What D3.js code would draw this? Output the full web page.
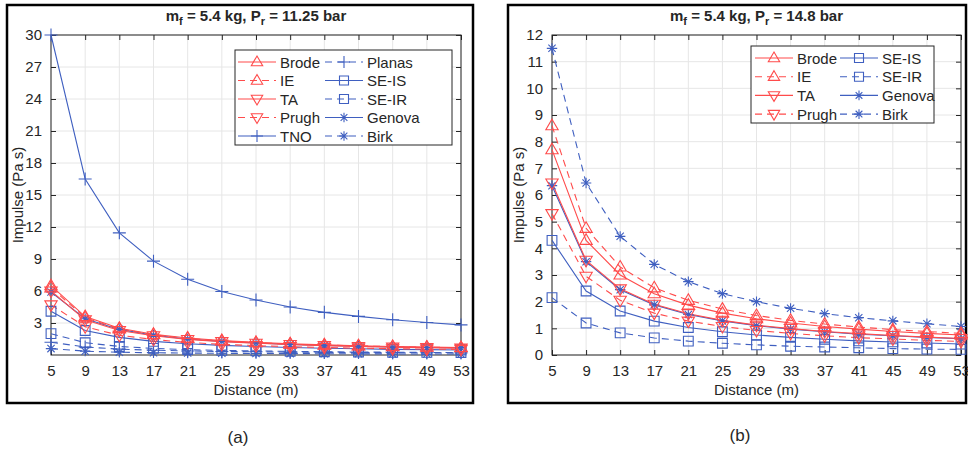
<!DOCTYPE html>
<html>
<head>
<meta charset="utf-8">
<script src="https://cdn.jsdelivr.net/npm/d3@7"></script>
<style>
  body { margin: 0; background: #fff; }
  text { font-family: "Liberation Sans", Arial, sans-serif; fill: #262626; }
</style>
</head>
<body>
<script>
// distances (m)
var distances = [5, 9, 13, 17, 21, 25, 29, 33, 37, 41, 45, 49, 53];

// panel (a): m_f = 5.4 kg, P_r = 11.25 bar
var aBrode  = [6.5, 3.6, 2.5, 1.95, 1.6, 1.35, 1.18, 1.05, 0.95, 0.87, 0.8, 0.75, 0.7];
var aIE     = [6.3, 3.5, 2.45, 1.9, 1.55, 1.32, 1.15, 1.02, 0.93, 0.85, 0.78, 0.73, 0.68];
var aTA     = [6.0, 3.3, 2.3, 1.8, 1.45, 1.25, 1.1, 0.98, 0.88, 0.8, 0.74, 0.69, 0.64];
var aPrugh  = [4.7, 2.65, 1.85, 1.45, 1.18, 1.0, 0.88, 0.78, 0.7, 0.64, 0.59, 0.55, 0.52];
var aTNO    = [30, 16.5, 11.45, 8.8, 7.1, 5.95, 5.15, 4.5, 4.0, 3.62, 3.3, 3.05, 2.82];
var aPlanas = [1.2, 0.75, 0.55, 0.45, 0.38, 0.33, 0.3, 0.27, 0.25, 0.23, 0.22, 0.21, 0.2];
var aSEIS   = [4.1, 2.3, 1.65, 1.28, 1.05, 0.9, 0.79, 0.7, 0.63, 0.58, 0.53, 0.5, 0.47];
var aSEIR   = [2.0, 1.15, 0.8, 0.62, 0.5, 0.43, 0.38, 0.34, 0.3, 0.28, 0.26, 0.24, 0.23];
var aGenova = [5.9, 3.4, 2.4, 1.85, 1.5, 1.28, 1.12, 0.99, 0.9, 0.82, 0.75, 0.7, 0.66];
var aBirk   = [0.6, 0.36, 0.26, 0.21, 0.18, 0.16, 0.14, 0.13, 0.12, 0.11, 0.1, 0.1, 0.09];

// panel (b): m_f = 5.4 kg, P_r = 14.8 bar
var bBrode  = [7.7, 4.3, 3.0, 2.3, 1.87, 1.57, 1.36, 1.2, 1.07, 0.97, 0.88, 0.81, 0.75];
var bIE     = [8.6, 4.75, 3.3, 2.52, 2.05, 1.72, 1.48, 1.3, 1.16, 1.05, 0.95, 0.88, 0.81];
var bTA     = [6.45, 3.55, 2.48, 1.9, 1.55, 1.3, 1.12, 0.99, 0.88, 0.8, 0.73, 0.67, 0.62];
var bPrugh  = [5.3, 2.95, 2.05, 1.57, 1.27, 1.07, 0.92, 0.81, 0.72, 0.65, 0.6, 0.55, 0.51];
var bSEIS   = [4.3, 2.4, 1.65, 1.27, 1.03, 0.87, 0.75, 0.66, 0.59, 0.53, 0.49, 0.45, 0.41];
var bSEIR   = [2.15, 1.2, 0.83, 0.64, 0.52, 0.44, 0.38, 0.33, 0.3, 0.27, 0.24, 0.22, 0.21];
var bGenova = [6.35, 3.5, 2.45, 1.88, 1.52, 1.28, 1.1, 0.97, 0.87, 0.78, 0.72, 0.66, 0.61];
var bBirk   = [11.5, 6.45, 4.45, 3.4, 2.75, 2.3, 2.0, 1.75, 1.55, 1.4, 1.28, 1.17, 1.07];

var aYTicks = [3, 6, 9, 12, 15, 18, 21, 24, 27, 30];
var bYTicks = [0, 1, 2, 3, 4, 5, 6, 7, 8, 9, 10, 11, 12];

var red = "#ff4b4b";
var blue = "#3f5fc0";

// line style per method
var styles = {
  "Brode":  { color: red,  dash: false, marker: "up" },
  "IE":     { color: red,  dash: true,  marker: "up" },
  "TA":     { color: red,  dash: false, marker: "down" },
  "Prugh":  { color: red,  dash: true,  marker: "down" },
  "TNO":    { color: blue, dash: false, marker: "plus" },
  "Planas": { color: blue, dash: true,  marker: "plus" },
  "SE-IS":  { color: blue, dash: false, marker: "square" },
  "SE-IR":  { color: blue, dash: true,  marker: "square" },
  "Genova": { color: blue, dash: false, marker: "star" },
  "Birk":   { color: blue, dash: true,  marker: "star" }
};

var W = 968, H = 453;
var svg = d3.select("body").append("svg").attr("width", W).attr("height", H);

function markerPath(type, s) {
  if (type == "up") {
    return "M0," + (-s) + "L" + (s * 0.95) + "," + (s * 0.62) + "L" + (-s * 0.95) + "," + (s * 0.62) + "Z";
  } else if (type == "down") {
    return "M0," + s + "L" + (s * 0.95) + "," + (-s * 0.62) + "L" + (-s * 0.95) + "," + (-s * 0.62) + "Z";
  } else if (type == "square") {
    var q = s * 0.75;
    return "M" + (-q) + "," + (-q) + "H" + q + "V" + q + "H" + (-q) + "Z";
  } else if (type == "plus") {
    return "M" + (-s) + ",0H" + s + "M0," + (-s) + "V" + s;
  } else {
    var p = s * 0.8, d = p * 0.7;
    return "M" + (-p) + ",0H" + p + "M0," + (-p) + "V" + p +
      "M" + (-d) + "," + (-d) + "L" + d + "," + d + "M" + (-d) + "," + d + "L" + d + "," + (-d);
  }
}

function drawPanel(p) {
  var g = svg.append("g");

  // image frame
  g.append("rect")
    .attr("x", p.frame[0]).attr("y", p.frame[1])
    .attr("width", p.frame[2]).attr("height", p.frame[3])
    .attr("fill", "none").attr("stroke", "#000").attr("stroke-width", 2.5);

  var x = d3.scaleLinear().domain([5, 53]).range([p.left, p.right]);
  var y = d3.scaleLinear().domain(p.yDomain).range([p.bottom, p.top]);

  // grid
  g.append("g").selectAll("line").data(distances).enter().append("line")
    .attr("x1", function(d) { return x(d); }).attr("x2", function(d) { return x(d); })
    .attr("y1", p.top).attr("y2", p.bottom)
    .attr("stroke", "#e6e6e6").attr("stroke-width", 1);
  g.append("g").selectAll("line").data(p.yTicks).enter().append("line")
    .attr("x1", p.left).attr("x2", p.right)
    .attr("y1", function(d) { return y(d); }).attr("y2", function(d) { return y(d); })
    .attr("stroke", "#e6e6e6").attr("stroke-width", 1);

  // axes (ticks inward, box on)
  var xAxis = g.append("g").attr("transform", "translate(0," + p.bottom + ")")
    .call(d3.axisBottom(x).tickValues(distances).tickSizeInner(-5).tickSizeOuter(0).tickPadding(10));
  var xTop = g.append("g").attr("transform", "translate(0," + p.top + ")")
    .call(d3.axisTop(x).tickValues(distances).tickSizeInner(-5).tickSizeOuter(0).tickFormat(""));
  var yAxis = g.append("g").attr("transform", "translate(" + p.left + ",0)")
    .call(d3.axisLeft(y).tickValues(p.yTicks).tickSizeInner(-5).tickSizeOuter(0).tickPadding(9));
  var yRight = g.append("g").attr("transform", "translate(" + p.right + ",0)")
    .call(d3.axisRight(y).tickValues(p.yTicks).tickSizeInner(-5).tickSizeOuter(0).tickFormat(""));
  [xAxis, xTop, yAxis, yRight].forEach(function(a) {
    a.select(".domain").remove();
    a.selectAll("line").attr("stroke", "#262626");
    a.selectAll("text").style("font-size", "15px").attr("fill", "#262626")
      .style("font-family", "'Liberation Sans', Arial, sans-serif");
  });
  g.append("rect")
    .attr("x", p.left).attr("y", p.top)
    .attr("width", p.right - p.left).attr("height", p.bottom - p.top)
    .attr("fill", "none").attr("stroke", "#262626").attr("stroke-width", 1);

  // series
  var line = d3.line()
    .x(function(d, i) { return x(distances[i]); })
    .y(function(d) { return y(d); });

  p.series.forEach(function(s) {
    var st = styles[s.name];
    g.append("path").datum(s.values)
      .attr("d", line)
      .attr("fill", "none")
      .attr("stroke", st.color)
      .attr("stroke-width", 1.1)
      .attr("stroke-dasharray", st.dash ? "7,5" : null);
  });
  p.series.forEach(function(s) {
    var st = styles[s.name];
    g.append("g").selectAll("path").data(s.values).enter().append("path")
      .attr("transform", function(d, i) { return "translate(" + x(distances[i]) + "," + y(d) + ")"; })
      .attr("d", markerPath(st.marker, 6.5))
      .attr("fill", "none")
      .attr("stroke", st.color)
      .attr("stroke-width", 1.1);
  });

  // title
  var title = g.append("text")
    .attr("x", (p.left + p.right) / 2).attr("y", 21)
    .attr("text-anchor", "middle")
    .style("font-size", "15px").style("font-weight", "bold");
  title.append("tspan").text("m");
  title.append("tspan").attr("dy", 4).style("font-size", "11px").text("f");
  title.append("tspan").attr("dy", -4).text(" = 5.4 kg, P");
  title.append("tspan").attr("dy", 4).style("font-size", "11px").text("r");
  title.append("tspan").attr("dy", -4).text(" = " + p.pr + " bar");

  // axis labels
  g.append("text")
    .attr("x", (p.left + p.right) / 2).attr("y", p.bottom + 40)
    .attr("text-anchor", "middle").style("font-size", "15px")
    .text("Distance (m)");
  g.append("text")
    .attr("transform", "translate(" + p.yLabelX + "," + ((p.top + p.bottom) / 2) + ") rotate(-90)")
    .attr("text-anchor", "middle").style("font-size", "15px")
    .text("Impulse (Pa s)");

  // legend
  var lg = p.legend;
  g.append("rect")
    .attr("x", lg.x).attr("y", lg.y).attr("width", lg.w).attr("height", lg.h)
    .attr("fill", "#fff").attr("stroke", "#262626").attr("stroke-width", 1);
  lg.cols.forEach(function(col, ci) {
    col.forEach(function(name, ri) {
      var st = styles[name];
      var lx = lg.x + lg.colX[ci];
      var ly = lg.y + 12 + ri * lg.rowH;
      g.append("line")
        .attr("x1", lx).attr("x2", lx + 38).attr("y1", ly).attr("y2", ly)
        .attr("stroke", st.color).attr("stroke-width", 1.1)
        .attr("stroke-dasharray", st.dash ? "7,5" : null);
      g.append("path")
        .attr("transform", "translate(" + (lx + 19) + "," + ly + ")")
        .attr("d", markerPath(st.marker, 6))
        .attr("fill", "none").attr("stroke", st.color).attr("stroke-width", 1.1);
      g.append("text")
        .attr("x", lx + 42).attr("y", ly + 5.5)
        .style("font-size", "15px")
        .text(name);
    });
  });

  // panel caption
  g.append("text")
    .attr("x", p.caption[0]).attr("y", p.caption[1])
    .attr("text-anchor", "middle").style("font-size", "17px")
    .text(p.caption[2]);
}

drawPanel({
  frame: [7, 5, 466, 398],
  left: 51, right: 461, top: 35, bottom: 355,
  yDomain: [0, 30], yTicks: aYTicks,
  yLabelX: 23,
  pr: "11.25",
  series: [
    { name: "TNO", values: aTNO },
    { name: "Planas", values: aPlanas },
    { name: "SE-IR", values: aSEIR },
    { name: "Birk", values: aBirk },
    { name: "SE-IS", values: aSEIS },
    { name: "Genova", values: aGenova },
    { name: "Prugh", values: aPrugh },
    { name: "TA", values: aTA },
    { name: "IE", values: aIE },
    { name: "Brode", values: aBrode }
  ],
  legend: { x: 235, y: 50, w: 217, h: 95, rowH: 18.5, colX: [3, 90],
    cols: [["Brode", "IE", "TA", "Prugh", "TNO"], ["Planas", "SE-IS", "SE-IR", "Genova", "Birk"]] },
  caption: [238, 443, "(a)"]
});

drawPanel({
  frame: [508, 5, 458, 398],
  left: 552, right: 961, top: 35, bottom: 355,
  yDomain: [0, 12], yTicks: bYTicks,
  yLabelX: 524,
  pr: "14.8",
  series: [
    { name: "Birk", values: bBirk },
    { name: "SE-IR", values: bSEIR },
    { name: "SE-IS", values: bSEIS },
    { name: "Genova", values: bGenova },
    { name: "Prugh", values: bPrugh },
    { name: "TA", values: bTA },
    { name: "IE", values: bIE },
    { name: "Brode", values: bBrode }
  ],
  legend: { x: 751, y: 46, w: 183, h: 77, rowH: 18.7, colX: [4, 89],
    cols: [["Brode", "IE", "TA", "Prugh"], ["SE-IS", "SE-IR", "Genova", "Birk"]] },
  caption: [740, 441, "(b)"]
});
</script>
</body>
</html>
